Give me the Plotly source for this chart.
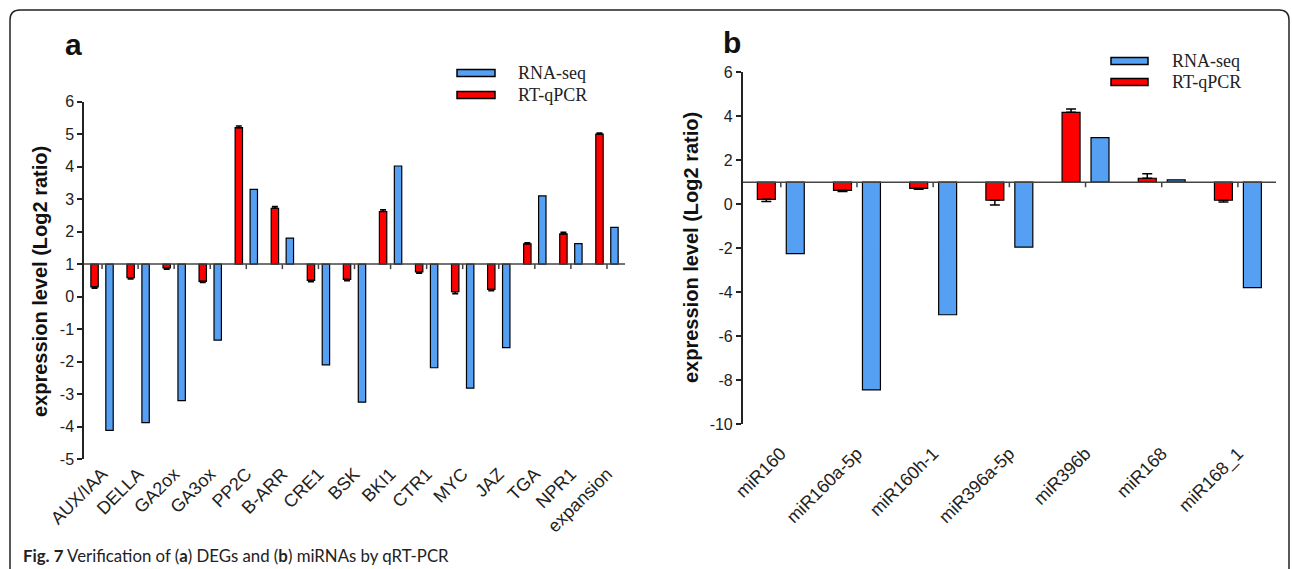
import plotly.graph_objects as go

W, H = 1292, 569

# ---------------- data ----------------
genes = ["AUX/IAA", "DELLA", "GA2ox", "GA3ox", "PP2C", "B-ARR", "CRE1", "BSK",
         "BKI1", "CTR1", "MYC", "JAZ", "TGA", "NPR1", "expansion"]
rnaseq_a = [-4.12, -3.88, -3.2, -1.34, 3.3, 1.8, -2.1, -3.25, 4.02, -2.19, -2.82, -1.57, 3.1, 1.63, 2.13]
qpcr_a = [0.3, 0.58, 0.88, 0.47, 5.2, 2.72, 0.5, 0.53, 2.62, 0.76, 0.15, 0.22, 1.62, 1.93, 5.0]
qpcr_a_err = [0.04, 0.04, 0.04, 0.04, 0.05, 0.05, 0.04, 0.04, 0.05, 0.04, 0.06, 0.04, 0.04, 0.05, 0.04]

mirnas = ["miR160", "miR160a-5p", "miR160h-1", "miR396a-5p", "miR396b", "miR168", "miR168_1"]
rnaseq_b = [-2.25, -8.45, -5.03, -1.95, 3.03, 1.11, -3.8]
qpcr_b = [0.22, 0.63, 0.72, 0.18, 4.18, 1.18, 0.18]
qpcr_b_err = [0.1, 0.05, 0.04, 0.22, 0.15, 0.2, 0.08]

BASE = 1
yticks_a = list(range(-5, 7))
yticks_b = list(range(-10, 7, 2))

RED = "#FF0000"
BLUE = "#56A0F3"
FONT = "Liberation Sans"
SERIF = "Liberation Serif"

# bar geometry (category units)
BW_A, OFF_RED_A, OFF_BLUE_A = 0.205, -0.31, 0.105
BW_B, OFF_RED_B, OFF_BLUE_B = 0.236, -0.308, 0.072


def xp(px):
    return px / W


def yp(py):
    return 1 - py / H


def one_sided(vals, errs):
    up = [e if v >= BASE else 0 for v, e in zip(vals, errs)]
    down = [e if v < BASE else 0 for v, e in zip(vals, errs)]
    return up, down


fig = go.Figure()

# panel a
up, dn = one_sided(qpcr_a, qpcr_a_err)
fig.add_trace(go.Bar(x=genes, y=[v - BASE for v in qpcr_a], base=BASE, name="RT-qPCR",
                     width=BW_A, offset=OFF_RED_A,
                     marker=dict(color=RED, line=dict(color="black", width=1.2)),
                     error_y=dict(type="data", symmetric=False, array=up, arrayminus=dn,
                                  color="black", thickness=1.5, width=3),
                     xaxis="x", yaxis="y", showlegend=False))
fig.add_trace(go.Bar(x=genes, y=[v - BASE for v in rnaseq_a], base=BASE, name="RNA-seq",
                     width=BW_A, offset=OFF_BLUE_A,
                     marker=dict(color=BLUE, line=dict(color="black", width=1.2)),
                     xaxis="x", yaxis="y", showlegend=False))

# panel b
up, dn = one_sided(qpcr_b, qpcr_b_err)
fig.add_trace(go.Bar(x=mirnas, y=[v - BASE for v in qpcr_b], base=BASE, name="RT-qPCR",
                     width=BW_B, offset=OFF_RED_B,
                     marker=dict(color=RED, line=dict(color="black", width=1.2)),
                     error_y=dict(type="data", symmetric=False, array=up, arrayminus=dn,
                                  color="black", thickness=1.5, width=5),
                     xaxis="x2", yaxis="y2", showlegend=False))
fig.add_trace(go.Bar(x=mirnas, y=[v - BASE for v in rnaseq_b], base=BASE, name="RNA-seq",
                     width=BW_B, offset=OFF_BLUE_B,
                     marker=dict(color=BLUE, line=dict(color="black", width=1.2)),
                     xaxis="x2", yaxis="y2", showlegend=False))

ytick_font = dict(family=FONT, size=16, color="#222")
xtick_font = dict(family=FONT, size=18, color="#222")


def yaxis(domain_px, rng, ticks, anchor):
    return dict(domain=[yp(domain_px[1]), yp(domain_px[0])], anchor=anchor, range=rng,
                tickmode="array", tickvals=ticks, ticktext=[str(t) for t in ticks],
                showline=True, linecolor="#222", linewidth=1.5,
                ticks="outside", ticklen=5, tickwidth=1.5, tickcolor="#222",
                tickfont=ytick_font, showgrid=False, zeroline=False, automargin=False)


def xaxis(domain_px, cats, anchor, pad):
    return dict(domain=[xp(domain_px[0]), xp(domain_px[1])], anchor=anchor, showline=False,
                ticks="outside" if pad else "", ticklen=max(pad, 1), tickcolor="rgba(0,0,0,0)",
                tickangle=-45, tickfont=xtick_font, showgrid=False, zeroline=False,
                categoryorder="array", categoryarray=cats, automargin=False,
                range=[-0.5, len(cats) - 0.5])


fig.update_layout(
    width=W, height=H,
    margin=dict(l=0, r=0, t=0, b=0, autoexpand=False),
    paper_bgcolor="white", plot_bgcolor="white",
    barmode="overlay",
    showlegend=False,
    xaxis=xaxis((84, 625), genes, "y", 0),
    yaxis=yaxis((101.7, 459), [-5, 6], yticks_a, "x"),
    xaxis2=xaxis((742.7, 1276), mirnas, "y2", 11),
    yaxis2=yaxis((72.3, 424), [-10, 6], yticks_b, "x2"),
)

shapes = []
# baselines at y=1
for xr, yr in (("x", "y"), ("x2", "y2")):
    shapes.append(dict(type="line", xref=f"{xr} domain", yref=yr, x0=0, x1=1, y0=BASE, y1=BASE,
                       line=dict(color="#444", width=1.5)))
# category tick marks under the baseline
for cats, xr, yr in ((genes, "x", "y"), (mirnas, "x2", "y2")):
    for i in range(len(cats)):
        shapes.append(dict(type="line", xref=xr, yref=yr, ysizemode="pixel", yanchor=BASE,
                           x0=i, x1=i, y0=0, y1=-5, line=dict(color="#444", width=1.5)))

# legends (manual)
legend_items = [("RNA-seq", BLUE), ("RT-qPCR", RED)]
annotations = []
for (sx0, sx1, tx, ys) in ((457, 495, 516, (73, 95)), (1111, 1148, 1170, (61, 82))):
    for (label, col), yy in zip(legend_items, ys):
        shapes.append(dict(type="rect", xref="paper", yref="paper",
                           x0=xp(sx0), x1=xp(sx1), y0=yp(yy - 3.5), y1=yp(yy + 3.5),
                           fillcolor=col, line=dict(color="black", width=1.5)))
        annotations.append(dict(text=label, xref="paper", yref="paper", x=xp(tx), y=yp(yy),
                                xanchor="left", yanchor="middle", showarrow=False,
                                font=dict(family=SERIF, size=18, color="#222")))

# frame (rounded, open at bottom)
r = 10
path = (f"M {xp(10)},{yp(569)} L {xp(10)},{yp(10 + r)} Q {xp(10)},{yp(10)} {xp(10 + r)},{yp(10)} "
        f"L {xp(1289 - r)},{yp(10)} Q {xp(1289)},{yp(10)} {xp(1289)},{yp(10 + r)} L {xp(1289)},{yp(569)}")
shapes.append(dict(type="path", xref="paper", yref="paper", path=path,
                   line=dict(color="#222", width=1.5)))

# panel letters
annotations.append(dict(text="<b>a</b>", xref="paper", yref="paper", x=xp(73), y=yp(45),
                        xanchor="center", yanchor="middle", showarrow=False,
                        font=dict(family=FONT, size=30, color="#111")))
annotations.append(dict(text="<b>b</b>", xref="paper", yref="paper", x=xp(732), y=yp(42),
                        xanchor="center", yanchor="middle", showarrow=False,
                        font=dict(family=FONT, size=30, color="#111")))
# y titles
annotations.append(dict(text="<b>expression level (Log2 ratio)</b>", xref="paper", yref="paper",
                        x=xp(40), y=yp(282), textangle=-90, xanchor="center", yanchor="middle",
                        showarrow=False, font=dict(family=FONT, size=20, color="#111")))
annotations.append(dict(text="<b>expression level (Log2 ratio)</b>", xref="paper", yref="paper",
                        x=xp(691), y=yp(248), textangle=-90, xanchor="center", yanchor="middle",
                        showarrow=False, font=dict(family=FONT, size=20, color="#111")))
# caption
annotations.append(dict(text="<b>Fig. 7</b> Verification of (<b>a</b>) DEGs and (<b>b</b>) miRNAs by qRT-PCR",
                        xref="paper", yref="paper", x=xp(21), y=yp(555), xanchor="left",
                        yanchor="middle", showarrow=False,
                        font=dict(family="Lato", size=16.8, color="#222")))

fig.update_layout(shapes=shapes, annotations=annotations)
fig.write_html("out.html", config={"displayModeBar": False},
               post_script="document.body.style.margin='0';document.body.style.overflow='hidden';")
